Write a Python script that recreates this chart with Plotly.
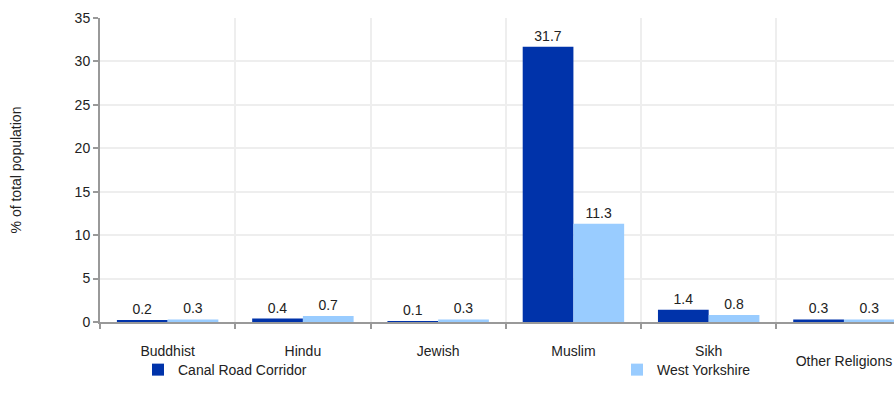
import plotly.graph_objects as go

categories = ["Buddhist", "Hindu", "Jewish", "Muslim", "Sikh", "Other Religions"]
tick_labels = ["Buddhist", "Hindu", "Jewish", "Muslim", "Sikh", ""]
low_label = "Other Religions"
canal_road = [0.2, 0.4, 0.1, 31.7, 1.4, 0.3]
west_yorkshire = [0.3, 0.7, 0.3, 11.3, 0.8, 0.3]
y_ticks = [0, 5, 10, 15, 20, 25, 30, 35]

FONT = "Arial, 'Liberation Sans', sans-serif"
FS = 14
X_RANGE = [-0.5, 5.37]

fig = go.Figure()
fig.add_trace(go.Bar(
    x=categories, y=canal_road, name="Canal Road Corridor",
    marker=dict(color="#0033aa", line=dict(width=0)),
    text=[f"{v:.1f}" for v in canal_road], textposition="outside",
    textfont=dict(size=FS, color="#222222", family=FONT), cliponaxis=False,
    legend="legend",
))
fig.add_trace(go.Bar(
    x=categories, y=west_yorkshire, name="West Yorkshire",
    marker=dict(color="#99ccff", line=dict(width=0)),
    text=[f"{v:.1f}" for v in west_yorkshire], textposition="outside",
    textfont=dict(size=FS, color="#222222", family=FONT), cliponaxis=False,
    legend="legend2",
))
# empty helper trace so the overlay axis (lowered last category label) is drawn
fig.add_trace(go.Scatter(x=[], y=[], xaxis="x2", yaxis="y", mode="markers",
                         showlegend=False, hoverinfo="skip"))

leg_common = dict(orientation="h", yanchor="middle", y=-0.158, xanchor="left",
                  font=dict(size=FS, color="#222222", family=FONT),
                  itemwidth=30, bgcolor="rgba(0,0,0,0)")

fig.update_layout(
    width=894, height=406,
    margin=dict(l=100, r=0, t=18, b=84),
    paper_bgcolor="white", plot_bgcolor="white",
    font=dict(family=FONT, size=FS, color="#222222"),
    barmode="group", bargap=0.25, bargroupgap=0,
    showlegend=True,
    legend=dict(x=(138 - 100) / 794, **leg_common),
    legend2=dict(x=(617 - 100) / 794, **leg_common),
    xaxis=dict(
        type="category", range=X_RANGE, automargin=False,
        tickmode="array", tickvals=categories, ticktext=tick_labels,
        tickson="boundaries", ticks="outside", ticklen=5, tickcolor="#999999", tickwidth=2,
        showline=True, linecolor="#999999", linewidth=2,
        showgrid=True, gridcolor="#eeeeee", gridwidth=2,
        ticklabelstandoff=15,
        tickfont=dict(size=FS, color="#222222", family=FONT),
    ),
    xaxis2=dict(
        type="linear", range=X_RANGE, overlaying="x", anchor="y", side="bottom",
        automargin=False, tickmode="array", tickvals=[len(categories) - 1],
        ticktext=[low_label], ticks="", showline=False, showgrid=False,
        zeroline=False, ticklabelstandoff=29,
        tickfont=dict(size=FS, color="#222222", family=FONT),
    ),
    yaxis=dict(
        range=[0, 35], tickmode="array", tickvals=y_ticks, automargin=False,
        ticks="outside", ticklen=5, tickcolor="#999999", tickwidth=2,
        showline=True, linecolor="#999999", linewidth=2,
        showgrid=True, gridcolor="#eeeeee", gridwidth=2,
        zeroline=False,
        tickfont=dict(size=FS, color="#222222", family=FONT),
        title=dict(text="% of total population", standoff=50,
                   font=dict(size=FS, color="#222222", family=FONT)),
    ),
)

fig.write_html("out.html", config={"displayModeBar": False},
               post_script="document.body.style.margin='0';")
